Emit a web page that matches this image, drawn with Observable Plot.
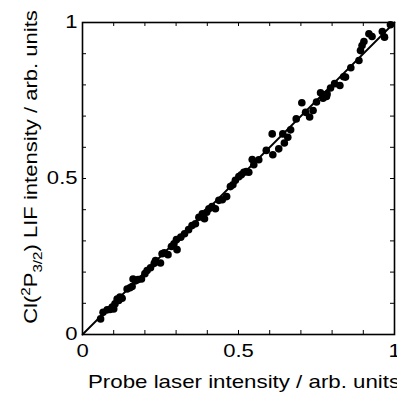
<!DOCTYPE html>
<html><head><meta charset="utf-8">
<script src="https://cdn.jsdelivr.net/npm/d3@7"></script>
<script src="https://cdn.jsdelivr.net/npm/@observablehq/plot@0.6"></script>
<style>body{margin:0;background:#fff;}</style>
</head><body><div id="chart"></div>
<script>
const probeX = [0.058,0.066,0.079,0.088,0.095,0.100,0.104,0.111,0.116,0.120,0.127,0.143,0.152,0.159,0.162,0.170,0.178,0.189,0.200,0.207,0.218,0.230,0.234,0.250,0.255,0.262,0.274,0.285,0.293,0.301,0.303,0.315,0.327,0.340,0.351,0.362,0.373,0.384,0.391,0.398,0.405,0.415,0.426,0.437,0.448,0.462,0.474,0.482,0.490,0.501,0.509,0.517,0.525,0.533,0.544,0.549,0.565,0.589,0.608,0.610,0.629,0.642,0.647,0.658,0.667,0.685,0.703,0.715,0.728,0.739,0.750,0.763,0.771,0.776,0.782,0.784,0.795,0.808,0.825,0.837,0.843,0.860,0.886,0.891,0.896,0.902,0.918,0.928,0.961,0.968,0.987];
const lifY = [0.050,0.071,0.079,0.080,0.088,0.082,0.098,0.114,0.109,0.120,0.116,0.146,0.150,0.154,0.178,0.172,0.176,0.178,0.195,0.205,0.214,0.228,0.237,0.229,0.259,0.262,0.256,0.282,0.291,0.304,0.272,0.312,0.323,0.336,0.349,0.355,0.376,0.387,0.371,0.392,0.403,0.410,0.403,0.430,0.432,0.442,0.474,0.480,0.494,0.506,0.512,0.520,0.522,0.520,0.561,0.544,0.560,0.590,0.643,0.576,0.595,0.643,0.614,0.632,0.656,0.691,0.743,0.712,0.697,0.718,0.745,0.775,0.757,0.768,0.763,0.771,0.790,0.804,0.798,0.826,0.825,0.855,0.878,0.910,0.926,0.939,0.964,0.955,0.971,0.953,0.993];
const fitX = [0, 1];
const fitY = [0, 1];
const minorTicks = [0,0.1,0.2,0.3,0.4,0.5,0.6,0.7,0.8,0.9,1];
const labelTicks = [0, 0.5, 1];
const xLabel = "Probe laser intensity / arb. units";

const points = probeX.map((x, i) => ({x, y: lifY[i]}));
const fit = fitX.map((x, i) => ({x, y: fitY[i]}));
const font = "'Liberation Sans', Arial, sans-serif";
const fs = 17.5;

const plot = Plot.plot({
  width: 397, height: 394,
  marginLeft: 82, marginRight: 3, marginTop: 22, marginBottom: 60,
  style: {fontFamily: font, fontSize: fs + "px", color: "black", background: "white"},
  x: {domain: [0, 1]},
  y: {domain: [0, 1]},
  marks: [
    Plot.line(fit, {x: "x", y: "y", stroke: "black", strokeWidth: 1.8}),
    Plot.dot(points, {x: "x", y: "y", r: 3.8, fill: "black"}),
    Plot.tickX(minorTicks, {x: d => d, insetTop: 308, stroke: "black", strokeWidth: 1}),
    Plot.tickX(minorTicks, {x: d => d, insetBottom: 308, stroke: "black", strokeWidth: 1}),
    Plot.tickY(minorTicks, {y: d => d, insetRight: 308, stroke: "black", strokeWidth: 1}),
    Plot.tickY(minorTicks, {y: d => d, insetLeft: 308, stroke: "black", strokeWidth: 1}),
    Plot.frame({stroke: "black", strokeWidth: 1.6}),
    Plot.axisX({ticks: labelTicks, tickSize: 0, tickPadding: 10, fontSize: fs, label: null, tickFormat: d => String(d)}),
    Plot.axisY({ticks: labelTicks, tickSize: 0, tickPadding: 5, fontSize: fs, label: null, tickFormat: d => String(d)})
  ]
});
document.getElementById("chart").appendChild(plot);

const svg = d3.select(plot);
svg.append("text")
  .attr("x", 88).attr("y", 388)
  .attr("text-anchor", "start")
  .attr("font-family", font).attr("font-size", 17.7).attr("fill", "black")
  .text(xLabel);

const t = svg.append("text")
  .attr("transform", "translate(37,167) rotate(-90)")
  .attr("text-anchor", "middle")
  .attr("font-family", font).attr("font-size", fs).attr("fill", "black");
t.append("tspan").text("Cl(");
t.append("tspan").attr("dy", -7).attr("font-size", 12).text("2");
t.append("tspan").attr("dy", 7).text("P");
t.append("tspan").attr("dy", 5).attr("font-size", 12).text("3/2");
t.append("tspan").attr("dy", -5).text(") LIF intensity / arb. units");

// the reference glyphs are about 1.25x wider than tall: stretch horizontally
svg.selectAll("text").each(function() {
  const L = this.getComputedTextLength();
  this.setAttribute("textLength", L * 1.26);
  this.setAttribute("lengthAdjust", "spacingAndGlyphs");
});
</script>
</body></html>
